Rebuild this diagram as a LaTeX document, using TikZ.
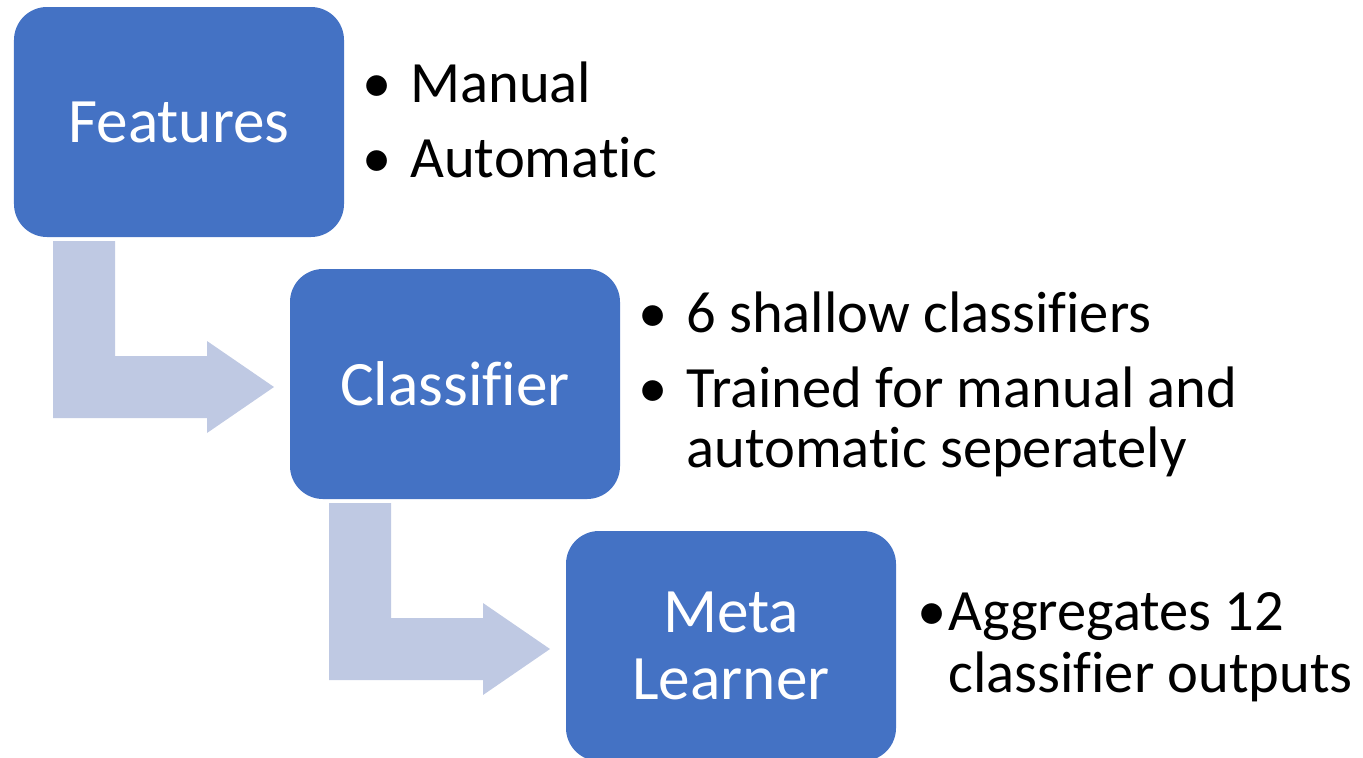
\documentclass[tikz,border=0pt]{standalone}
\usepackage{fontspec}
\setmainfont{Carlito}[Ligatures=NoCommon]
\usepackage{tikz}
\definecolor{stageblue}{HTML}{4472C4}
\definecolor{bendgrey}{HTML}{BFC9E3}

\begin{document}
\begin{tikzpicture}[x=0.2mm,y=-0.2mm,
  stagebox/.style={rectangle,rounded corners=6.6mm,fill=stageblue,text=white,
    minimum width=66mm,minimum height=46mm,inner sep=0pt,align=center,
    font=\fontsize{36}{38.6}\selectfont},
  bultext/.style={anchor=base west,inner sep=0pt,font=\fontsize{33.3}{38}\selectfont},
  bulmark/.style={anchor=base,inner sep=0pt,font=\fontsize{33.3}{38}\selectfont}]
% units are the pixels of a 1363 x 757 canvas, y pointing down
\useasboundingbox (0,0) rectangle (1363,757);

% ---- the bent arrows ----------------------------------------------------
\fill[bendgrey] (53,241) -- (115,241) -- (115,356) -- (207,356) -- (207,341)
  -- (274,387) -- (207,433) -- (207,418) -- (53,418) -- cycle;
\begin{scope}[shift={(276,262)}]
\fill[bendgrey] (53,241) -- (115,241) -- (115,356) -- (207,356) -- (207,341)
  -- (274,387) -- (207,433) -- (207,418) -- (53,418) -- cycle;
\end{scope}

% ---- the three stages ---------------------------------------------------
\node[stagebox] (feat) at (179,122) {Features};
\node[stagebox] (clf)  at (455,384) {Classifier};
\node[stagebox] (meta) at (731,646) {Meta\\Learner};

% ---- bullets beside each stage ------------------------------------------
\node[bulmark] (featb1) at (377,102) {•};
\node[bultext] (featt1) at (410,102) {Manual};
\node[bulmark] (featb2) at (377,177) {•};
\node[bultext] (featt2) at (410,177) {Automatic};

\node[bulmark] (clfb1) at (653,332) {•};
\node[bultext] (clft1) at (686,332) {6 shallow classifiers};
\node[bulmark] (clfb2) at (653,407) {•};
\node[bultext] (clft2) at (686,407) {Trained for manual and};
\node[bultext] (clft3) at (686,467) {automatic seperately};

\node[bulmark] (metab1) at (932,630) {•};
\node[bultext] (metat1) at (948,630) {Aggregates 12};
\node[bultext] (metat2) at (948,692) {classifier outputs};
\end{tikzpicture}
\end{document}
